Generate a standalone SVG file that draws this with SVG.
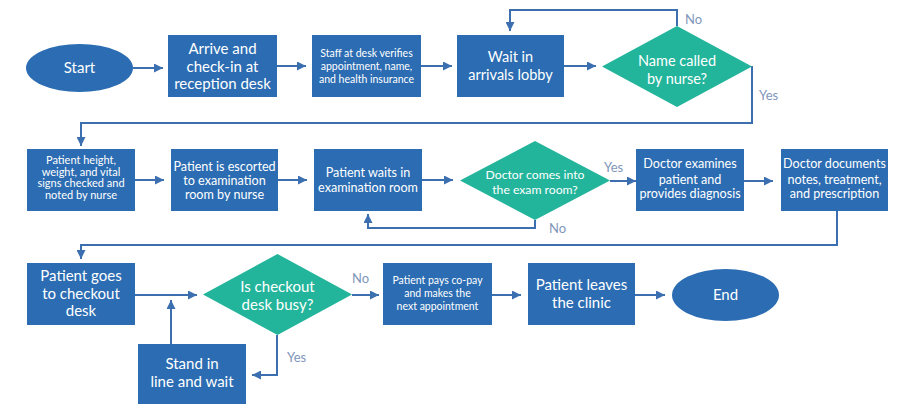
<svg xmlns="http://www.w3.org/2000/svg" width="902" height="404" viewBox="0 0 902 404">
  <style>
    .box { fill: #2b6cb2; }
    .dec { fill: #22b59b; }
    .t { fill: #ffffff; font-family: Lato, "Open Sans", "Liberation Sans", sans-serif; text-anchor: middle; }
    .lbl { fill: #7f97ba; font-family: Lato, "Open Sans", "Liberation Sans", sans-serif; font-size: 13px; }
    .c { fill: none; stroke: #3b6fb0; stroke-width: 2; marker-end: url(#ah); }
  </style>
  <defs>
    <marker id="ah" viewBox="0 0 10 10" refX="10" refY="5" markerWidth="4.5" markerHeight="4.5" markerUnits="strokeWidth" orient="auto">
      <path d="M0,0 L10,5 L0,10 z" fill="#3b6fb0"/>
    </marker>
  </defs>
  <rect width="902" height="404" fill="#ffffff"/>

  <!-- connectors -->
  <g id="connectors">
    <path class="c" d="M133,68 H163"/>
    <path class="c" d="M277,66 H306"/>
    <path class="c" d="M421,66 H452"/>
    <path class="c" d="M564,66 H596"/>
    <path class="c" d="M677,26 V10 H510 V31"/>
    <path class="c" d="M752,66 V123 H81 V146"/>
    <path class="c" d="M135,180 H164"/>
    <path class="c" d="M278,180 H307"/>
    <path class="c" d="M422,180 H453"/>
    <path class="c" d="M610,181 H636"/>
    <path class="c" d="M535,220 V228 H368 V214"/>
    <path class="c" d="M744,181 H773"/>
    <path class="c" d="M837,211 V245 H81 V259"/>
    <path class="c" d="M135,295 H197"/>
    <path class="c" d="M171,344 V300"/>
    <path class="c" d="M352,295 H379"/>
    <path class="c" d="M277,335 V375 H252"/>
    <path class="c" d="M492,295 H521"/>
    <path class="c" d="M635,295 H665"/>
    <text class="lbl" x="685" y="24">No</text>
    <text class="lbl" x="759" y="100">Yes</text>
    <text class="lbl" x="604" y="172">Yes</text>
    <text class="lbl" x="549" y="233">No</text>
    <text class="lbl" x="352" y="283">No</text>
    <text class="lbl" x="287" y="362">Yes</text>
  </g>

  <!-- row 1 -->
  <g id="start">
    <ellipse class="box" cx="79.5" cy="68" rx="53.5" ry="24"/>
    <text class="t" x="79.5" y="73" font-size="15">Start</text>
  </g>
  <g id="arrive">
    <rect class="box" x="168" y="35" width="109" height="62"/>
    <text class="t" font-size="15"><tspan x="222.5" y="54">Arrive and</tspan><tspan x="222.5" y="71.5">check-in at</tspan><tspan x="222.5" y="89">reception desk</tspan></text>
  </g>
  <g id="verify">
    <rect class="box" x="312" y="35" width="109" height="62"/>
    <text class="t" font-size="10.5"><tspan x="366.5" y="56.5">Staff at desk verifies</tspan><tspan x="366.5" y="69.5">appointment, name,</tspan><tspan x="366.5" y="82.5">and health insurance</tspan></text>
  </g>
  <g id="lobby">
    <rect class="box" x="457" y="35" width="107" height="62"/>
    <text class="t" font-size="14.5"><tspan x="510.5" y="62">Wait in</tspan><tspan x="510.5" y="80">arrivals lobby</tspan></text>
  </g>
  <g id="called">
    <polygon class="dec" points="602,66.5 677,26 752,66.5 677,107"/>
    <text class="t" font-size="14.5"><tspan x="677" y="66">Name called</tspan><tspan x="677" y="84">by nurse?</tspan></text>
  </g>

  <!-- row 2 -->
  <g id="vitals">
    <rect class="box" x="27" y="149" width="108" height="62"/>
    <text class="t" font-size="11"><tspan x="81" y="164">Patient height,</tspan><tspan x="81" y="175.5">weight, and vital</tspan><tspan x="81" y="187">signs checked and</tspan><tspan x="81" y="198.5">noted by nurse</tspan></text>
  </g>
  <g id="escorted">
    <rect class="box" x="171" y="149" width="107" height="62"/>
    <text class="t" font-size="12.6"><tspan x="224.5" y="171">Patient is escorted</tspan><tspan x="224.5" y="185">to examination</tspan><tspan x="224.5" y="199">room by nurse</tspan></text>
  </g>
  <g id="waits">
    <rect class="box" x="314" y="149" width="108" height="62"/>
    <text class="t" font-size="12.6"><tspan x="368" y="177">Patient waits in</tspan><tspan x="368" y="192">examination room</tspan></text>
  </g>
  <g id="doctor-in">
    <polygon class="dec" points="460,180.5 535,141 610,180.5 535,220"/>
    <text class="t" font-size="12.2"><tspan x="535" y="179">Doctor comes into</tspan><tspan x="535" y="194">the exam room?</tspan></text>
  </g>
  <g id="examines">
    <rect class="box" x="636" y="149" width="108" height="62"/>
    <text class="t" font-size="12.6"><tspan x="690" y="168">Doctor examines</tspan><tspan x="690" y="183.5">patient and</tspan><tspan x="690" y="198">provides diagnosis</tspan></text>
  </g>
  <g id="documents">
    <rect class="box" x="781" y="149" width="107" height="62"/>
    <text class="t" font-size="12.6"><tspan x="834.5" y="168">Doctor documents</tspan><tspan x="834.5" y="183.5">notes, treatment,</tspan><tspan x="834.5" y="198">and prescription</tspan></text>
  </g>

  <!-- row 3 -->
  <g id="checkout">
    <rect class="box" x="27" y="263" width="108" height="62"/>
    <text class="t" font-size="15"><tspan x="81" y="281">Patient goes</tspan><tspan x="81" y="298.5">to checkout</tspan><tspan x="81" y="316">desk</tspan></text>
  </g>
  <g id="busy">
    <polygon class="dec" points="203,294.5 277.5,254 352,294.5 277.5,335"/>
    <text class="t" font-size="15"><tspan x="277.5" y="292">Is checkout</tspan><tspan x="277.5" y="310">desk busy?</tspan></text>
  </g>
  <g id="stand">
    <rect class="box" x="138" y="344" width="108" height="64"/>
    <text class="t" font-size="15"><tspan x="192" y="369">Stand in</tspan><tspan x="192" y="387">line and wait</tspan></text>
  </g>
  <g id="pays">
    <rect class="box" x="383" y="263" width="109" height="62"/>
    <text class="t" font-size="10.5"><tspan x="437.5" y="284">Patient pays co-pay</tspan><tspan x="437.5" y="297">and makes the</tspan><tspan x="437.5" y="310">next appointment</tspan></text>
  </g>
  <g id="leaves">
    <rect class="box" x="528" y="263" width="107" height="62"/>
    <text class="t" font-size="15"><tspan x="581.5" y="290">Patient leaves</tspan><tspan x="581.5" y="307.5">the clinic</tspan></text>
  </g>
  <g id="end">
    <ellipse class="box" cx="725.5" cy="295" rx="53.5" ry="26"/>
    <text class="t" x="725.5" y="300" font-size="15">End</text>
  </g>
</svg>
